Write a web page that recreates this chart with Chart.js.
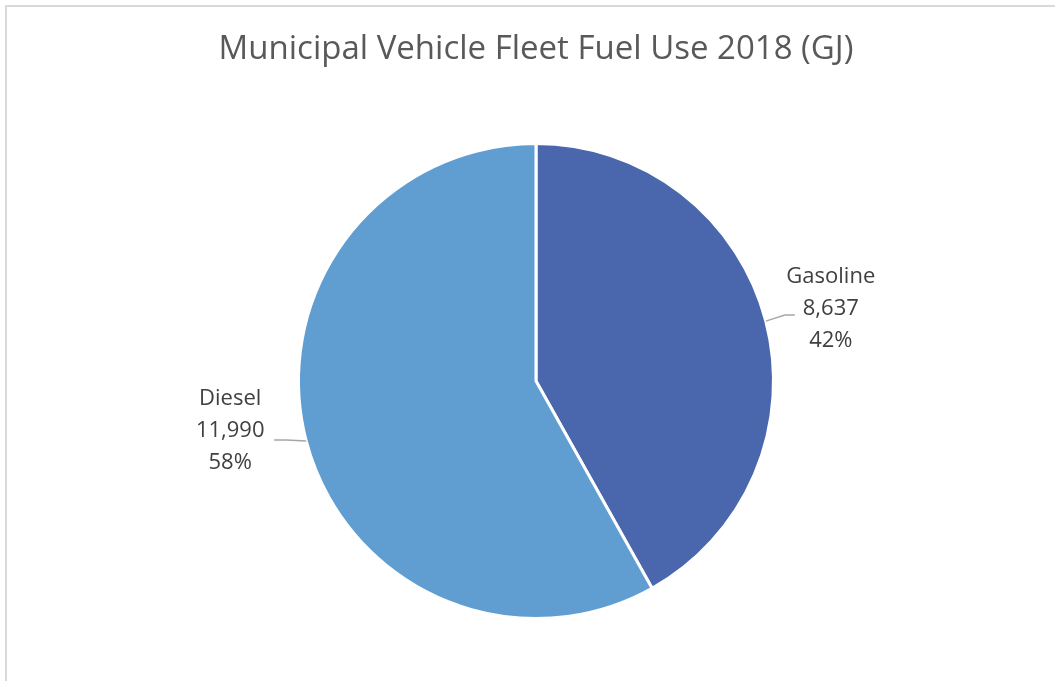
<!DOCTYPE html>
<html>
<head>
<meta charset="utf-8">
<script src="https://cdn.jsdelivr.net/npm/chart.js@4/dist/chart.umd.min.js"></script>
<style>
  html, body { margin: 0; padding: 0; background: #fff; overflow: hidden; }
  #wrap { position: relative; width: 1055px; height: 681px; }
  #frame { position: absolute; left: 5px; top: 5px; width: 1100px; height: 700px;
           border-top: 2px solid #d9d9d9; border-left: 2px solid #d9d9d9; }
  canvas { position: absolute; left: 0; top: 0; }
</style>
</head>
<body>
<div id="wrap">
  <div id="frame"></div>
  <canvas id="chart" width="1055" height="681"></canvas>
</div>
<script>
// data
const titleText = 'Municipal Vehicle Fleet Fuel Use 2018 (GJ)';
const fuelLabels = ['Gasoline', 'Diesel'];
const fuelValues = [8637, 11990];
const fuelColors = ['#4a66ad', '#609ed2'];

const fontFam = '"Open Sans", "Liberation Sans", sans-serif';

// label placement relative to the slice midpoint on the rim
const labelStyle = [
  { dx: 65, dy: -12, line: [[19, -6], [29, -6]] },
  { dx: -76, dy: -10, line: [[-20, -1], [-32, -1]] },
];

const total = fuelValues.reduce((a, b) => a + b, 0);

const outsideLabels = {
  id: 'outsideLabels',
  afterDraw(chart) {
    const ctx = chart.ctx;
    // title
    ctx.save();
    ctx.fillStyle = '#595959';
    ctx.font = '33px ' + fontFam;
    ctx.textAlign = 'center';
    ctx.textBaseline = 'middle';
    ctx.fillText(titleText, 536, 50);

    const meta = chart.getDatasetMeta(0);
    meta.data.forEach((arc, i) => {
      const mid = (arc.startAngle + arc.endAngle) / 2;
      const px = arc.x + Math.cos(mid) * arc.outerRadius;
      const py = arc.y + Math.sin(mid) * arc.outerRadius;
      const st = labelStyle[i];

      ctx.strokeStyle = '#a6a6a6';
      ctx.lineWidth = 1.3;
      ctx.beginPath();
      ctx.moveTo(px, py);
      st.line.forEach(p => ctx.lineTo(px + p[0], py + p[1]));
      ctx.stroke();

      const pct = Math.round(fuelValues[i] / total * 100) + '%';
      const lines = [fuelLabels[i], fuelValues[i].toLocaleString('en-US'), pct];
      ctx.fillStyle = '#404040';
      ctx.font = '22px ' + fontFam;
      ctx.textAlign = 'center';
      ctx.textBaseline = 'middle';
      lines.forEach((t, k) => {
        ctx.fillText(t, px + st.dx, py + st.dy + (k - 1) * 32);
      });
    });
    ctx.restore();
  }
};

const ctx = document.getElementById('chart').getContext('2d');
const chart = new Chart(ctx, {
  type: 'pie',
  data: {
    labels: fuelLabels,
    datasets: [{
      data: fuelValues,
      backgroundColor: fuelColors,
      borderColor: '#ffffff',
      borderWidth: 3,
    }],
  },
  options: {
    responsive: false,
    animation: false,
    layout: {
      padding: { top: 142, bottom: 61, left: 17, right: 0 },
    },
    plugins: {
      legend: { display: false },
      title: { display: false },
      tooltip: { enabled: false },
    },
  },
  plugins: [outsideLabels],
});
</script>
</body>
</html>
